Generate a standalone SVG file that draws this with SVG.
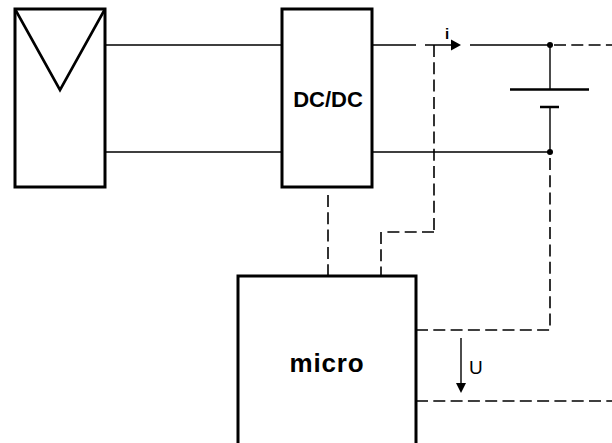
<svg xmlns="http://www.w3.org/2000/svg" width="612" height="443" viewBox="0 0 612 443">
<style>
.b{fill:#fff;stroke:#000;stroke-width:3}
.l{fill:none;stroke:#000;stroke-width:1.4}
.p{fill:none;stroke:#000;stroke-width:2.6}
.d{fill:none;stroke:#000;stroke-width:1.6;stroke-dasharray:12 5.3}
.t{font-family:"Liberation Sans",Arial,sans-serif;font-weight:bold;fill:#000}
</style>
<rect width="612" height="443" fill="#fff"/>
<g id="connectors">
<path class="l" d="M105 45H282M105 152H282M372 45H416M425 45H452M470 45H550M372 152H550M550 45V89M550 107V152"/>
<path class="p" d="M510 89.500H589M540 107H559"/>
<path d="M461 45L451 39.500V50.500Z" fill="#000"/>
<path class="d" d="M554 45H612M434 45V232M434 232H387M381 232V276M328 195V276M416 330H550V156M416 401H612"/>
<path class="l" d="M461 338V386"/>
<path d="M461 393L456 383H466Z" fill="#000"/>
<circle cx="550" cy="45" r="3" fill="#000"/>
<circle cx="550" cy="152" r="3" fill="#000"/>
</g>
<g id="pv"><rect class="b" x="15" y="9" width="90" height="178"/><path class="p" d="M15 9L60 90L105 9"/></g>
<g id="dcdc"><rect class="b" x="282" y="9" width="90" height="178"/><text class="t" x="328" y="107" font-size="22" text-anchor="middle">DC/DC</text></g>
<g id="micro"><path class="b" d="M238 443V276H416V443"/><text class="t" x="327" y="372" font-size="26" letter-spacing="0.8" text-anchor="middle">micro</text></g>
<g id="labels"><text class="t" x="445" y="39" font-size="15">i</text><text x="469" y="374" font-size="19" font-family="Liberation Sans,Arial,sans-serif">U</text></g>
</svg>
